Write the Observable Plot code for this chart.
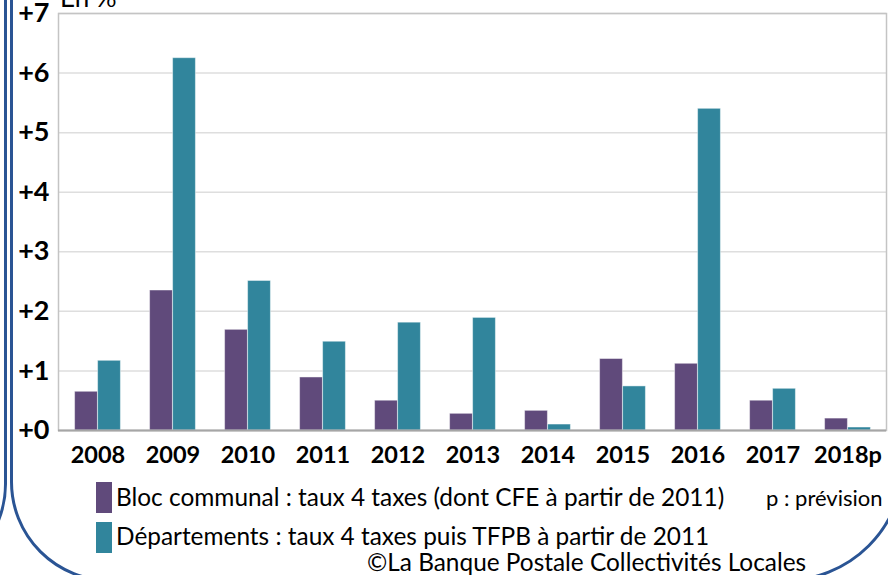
<!DOCTYPE html>
<html>
<head>
<meta charset="utf-8">
<script src="https://cdn.jsdelivr.net/npm/d3@7"></script>
<script src="https://cdn.jsdelivr.net/npm/@observablehq/plot@0.6"></script>
<style>
  html, body { margin: 0; padding: 0; background: #fff; }
  #wrap { position: relative; width: 888px; height: 575px; overflow: hidden; font-family: Lato, "Open Sans", sans-serif; background: #fff; }
  #chart { position: absolute; left: 0; top: 0; }
  .deco { position: absolute; border: 3px solid #2a5494; border-radius: 100px; box-sizing: border-box; }
  .lg { position: absolute; font-size: 24.4px; color: #000; white-space: nowrap; line-height: 1; }
  .sw { position: absolute; width: 16px; height: 31px; }
</style>
</head>
<body>
<div id="wrap">
  <div id="chart"></div>
  <div class="deco" style="left:10px; top:-200px; width:895px; height:782px; border-radius:100px 100px 120px 100px;"></div>
  <div class="deco" style="left:-900px; top:-200px; width:907px; height:784px;"></div>
  <div class="lg" style="left:60px; top:-16px; font-size:26px;">En %</div>
  <div class="sw" style="left:96px; top:482px; background:#604a7b;"></div>
  <div class="lg" id="l1" style="left:116px; top:485px;"></div>
  <div class="sw" style="left:96px; top:522px; background:#31859c;"></div>
  <div class="lg" id="l2" style="left:116px; top:524px;"></div>
  <div class="lg" id="pv" style="left:766px; top:487px; font-size:22px;"></div>
  <div class="lg" id="cr" style="left:367px; top:550px;"></div>
</div>
<script>
const years = ["2008","2009","2010","2011","2012","2013","2014","2015","2016","2017","2018p"];
const blocCommunal = [0.65, 2.35, 1.69, 0.89, 0.50, 0.28, 0.33, 1.20, 1.12, 0.50, 0.20];
const departements = [1.17, 6.25, 2.51, 1.49, 1.81, 1.89, 0.10, 0.74, 5.40, 0.70, 0.05];
const yTicks = [0, 1, 2, 3, 4, 5, 6, 7];
const seriesNames = [
  "Bloc communal : taux 4 taxes (dont CFE à partir de 2011)",
  "Départements : taux 4 taxes puis TFPB à partir de 2011"
];
const colors = ["#604a7b", "#31859c"];
const noteText = "p : prévision";
const creditText = "©La Banque Postale Collectivités Locales";

document.getElementById("l1").textContent = seriesNames[0];
document.getElementById("l2").textContent = seriesNames[1];
document.getElementById("pv").textContent = noteText;
document.getElementById("cr").textContent = creditText;

const dataA = years.map((y, i) => ({year: y, value: blocCommunal[i]}));
const dataB = years.map((y, i) => ({year: y, value: departements[i]}));

const chart = Plot.plot({
  width: 888,
  height: 475,
  marginLeft: 58,
  marginRight: 2,
  marginTop: 13,
  marginBottom: 45,
  style: {fontFamily: "Lato, 'Open Sans', sans-serif", background: "transparent"},
  x: {domain: years, padding: 0, label: null},
  y: {domain: [0, 7], label: null},
  marks: [
    Plot.gridY(yTicks, {stroke: "#dedede", strokeOpacity: 1, strokeWidth: 1.5}),
    Plot.frame({stroke: "#c4c4c4", strokeWidth: 1.5}),
    Plot.barY(dataA, {x: "year", y: "value", fill: colors[0], insetLeft: 14.6, insetRight: 37.6, stroke: "#ffffff", strokeOpacity: 0.45, strokeWidth: 1}),
    Plot.barY(dataB, {x: "year", y: "value", fill: colors[1], insetLeft: 37.6, insetRight: 14.6, stroke: "#ffffff", strokeOpacity: 0.45, strokeWidth: 1}),
    Plot.ruleY([0], {stroke: "#a6a6a6", strokeWidth: 2}),
    Plot.axisX({tickSize: 0, tickPadding: 16, fontSize: 23.5, fontWeight: "bold", fill: "#000", label: null}),
    Plot.axisY(yTicks, {tickSize: 0, tickPadding: 9, fontSize: 27, fontWeight: "bold", fill: "#000", tickFormat: d => "+" + d, label: null})
  ]
});
document.getElementById("chart").appendChild(chart);
</script>
</body>
</html>
